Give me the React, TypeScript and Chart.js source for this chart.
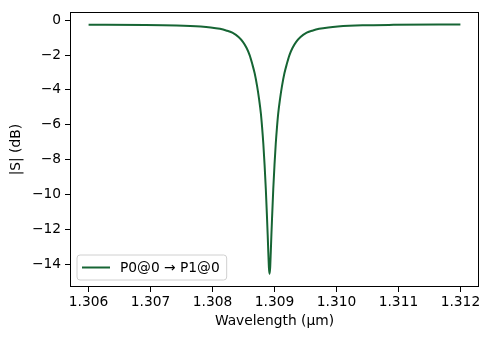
import React, { useEffect, useRef } from "react";
import { Chart, registerables } from "chart.js";

Chart.register(...registerables);

// Wavelength samples (µm)
const wavelengths: number[] = [
  1.306, 1.30692, 1.30742, 1.30781, 1.30797, 1.30812, 1.30822, 1.30832, 1.30842,
  1.30849, 1.30855, 1.3086, 1.30864, 1.30868, 1.30872, 1.30875, 1.30878, 1.3088,
  1.30882, 1.30884, 1.30886, 1.30888, 1.30889, 1.3089, 1.30891,
  1.30892,
  1.30893, 1.30894, 1.30895, 1.30896, 1.30898, 1.309, 1.30902, 1.30904, 1.30906,
  1.30909, 1.30912, 1.30916, 1.3092, 1.30924, 1.30929, 1.30935, 1.30942, 1.30952,
  1.30962, 1.30972, 1.30987, 1.31002, 1.31042, 1.31092, 1.312,
];

// |S| in dB
const magnitudeDb: number[] = [
  -0.27, -0.28, -0.31, -0.37, -0.42, -0.5, -0.59, -0.72, -0.97,
  -1.25, -1.6, -2.02, -2.5, -3.05, -3.8, -4.5, -5.35, -6.15,
  -7.1, -8.3, -9.7, -11.4, -12.3, -13.3, -14.2,
  -14.55,
  -14.2, -13.3, -12.3, -11.4, -9.7, -8.3, -7.1, -6.15, -5.35,
  -4.5, -3.8, -3.05, -2.5, -2.02, -1.6, -1.25, -0.97, -0.72,
  -0.59, -0.5, -0.42, -0.37, -0.3, -0.27, -0.25,
];

const seriesLabel = "P0@0 \u2192 P1@0";
const xTicks: number[] = [1.306, 1.307, 1.308, 1.309, 1.31, 1.311, 1.312];
const yTicks: number[] = [0, -2, -4, -6, -8, -10, -12, -14];

const FONT = "'DejaVu Sans', sans-serif";
const FONT_SIZE = 13.8;
const LINE_COLOR = "#166534";

const boxPlugin = {
  id: "mplBox",
  afterDraw(chart: any) {
    const { ctx, chartArea } = chart;
    ctx.save();
    ctx.strokeStyle = "#000";
    ctx.lineWidth = 1;
    ctx.strokeRect(
      Math.round(chartArea.left) + 0.5,
      Math.round(chartArea.top) + 0.5,
      Math.round(chartArea.right - chartArea.left) - 1,
      Math.round(chartArea.bottom - chartArea.top) - 1
    );
    // legend
    const label = chart.data.datasets[0].label as string;
    ctx.font = `${FONT_SIZE}px ${FONT}`;
    const tw = ctx.measureText(label).width;
    const x0 = chartArea.left + 7;
    const y1 = chartArea.bottom - 7;
    const h = 25;
    const w = 43 + tw + 7;
    const y0 = y1 - h;
    const r = 3;
    ctx.beginPath();
    ctx.moveTo(x0 + r, y0);
    ctx.lineTo(x0 + w - r, y0);
    ctx.quadraticCurveTo(x0 + w, y0, x0 + w, y0 + r);
    ctx.lineTo(x0 + w, y1 - r);
    ctx.quadraticCurveTo(x0 + w, y1, x0 + w - r, y1);
    ctx.lineTo(x0 + r, y1);
    ctx.quadraticCurveTo(x0, y1, x0, y1 - r);
    ctx.lineTo(x0, y0 + r);
    ctx.quadraticCurveTo(x0, y0, x0 + r, y0);
    ctx.closePath();
    ctx.fillStyle = "rgba(255,255,255,0.8)";
    ctx.fill();
    ctx.strokeStyle = "#d0d0d0";
    ctx.lineWidth = 1;
    ctx.stroke();
    const cy = y0 + h / 2;
    ctx.strokeStyle = LINE_COLOR;
    ctx.lineWidth = 2;
    ctx.beginPath();
    ctx.moveTo(x0 + 5, cy);
    ctx.lineTo(x0 + 33, cy);
    ctx.stroke();
    ctx.fillStyle = "#000";
    ctx.textBaseline = "middle";
    ctx.textAlign = "left";
    ctx.fillText(label, x0 + 43, cy + 0.5);
    ctx.restore();
  },
};

export default function App() {
  const canvasRef = useRef<HTMLCanvasElement | null>(null);

  useEffect(() => {
    if (!canvasRef.current) return;
    const points = wavelengths.map((w, i) => ({ x: w, y: magnitudeDb[i] }));
    const chart = new Chart(canvasRef.current, {
      type: "line",
      data: {
        datasets: [
          {
            label: seriesLabel,
            data: points,
            borderColor: LINE_COLOR,
            backgroundColor: LINE_COLOR,
            borderWidth: 2,
            pointRadius: 0,
            cubicInterpolationMode: "monotone",
            fill: false,
          },
        ],
      },
      options: {
        animation: false,
        responsive: false,
        devicePixelRatio: 1,
        layout: { padding: { top: 10, right: 10, left: 0, bottom: 0 } },
        plugins: {
          legend: { display: false },
          tooltip: { enabled: false },
        },
        scales: {
          x: {
            type: "linear",
            min: 1.3057,
            max: 1.3123,
            afterFit(scale: any) {
              scale.height = 53;
            },
            afterBuildTicks(scale: any) {
              scale.ticks = xTicks.map((v) => ({ value: v }));
            },
            grid: {
              drawOnChartArea: false,
              drawTicks: true,
              tickLength: 5,
              tickColor: "#000",
              tickWidth: 1,
            },
            border: { display: false },
            ticks: {
              color: "#000",
              font: { family: FONT, size: FONT_SIZE },
              padding: 2,
              maxRotation: 0,
              autoSkip: false,
              callback: (v: any) => Number(v).toFixed(3),
            },
            title: {
              display: true,
              text: "Wavelength (\u00b5m)",
              color: "#000",
              font: { family: FONT, size: FONT_SIZE },
              padding: { top: 0, bottom: 10 },
            },
          },
          y: {
            type: "linear",
            min: -15.3,
            max: 0.45,
            afterFit(scale: any) {
              scale.width = 70;
            },
            afterBuildTicks(scale: any) {
              scale.ticks = yTicks.map((v) => ({ value: v }));
            },
            grid: {
              drawOnChartArea: false,
              drawTicks: true,
              tickLength: 5,
              tickColor: "#000",
              tickWidth: 1,
            },
            border: { display: false },
            ticks: {
              color: "#000",
              font: { family: FONT, size: FONT_SIZE },
              padding: 4,
              autoSkip: false,
              callback: (v: any) => {
                const n = Number(v);
                return n < 0 ? "\u2212" + Math.abs(n).toString() : n.toString();
              },
            },
            title: {
              display: true,
              text: "|S| (dB)",
              color: "#000",
              font: { family: FONT, size: FONT_SIZE },
              padding: { top: 8, bottom: 0 },
            },
          },
        },
      },
      plugins: [boxPlugin],
    });
    return () => chart.destroy();
  }, []);

  return (
    <div style={{ position: "absolute", left: 0, top: 0, width: 489, height: 340, background: "#fff" }}>
      <canvas ref={canvasRef} width={489} height={340} style={{ width: 489, height: 340 }} />
    </div>
  );
}
